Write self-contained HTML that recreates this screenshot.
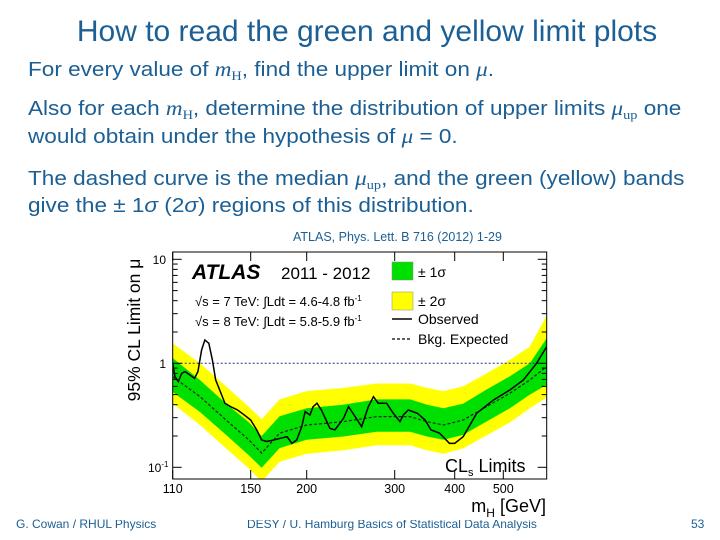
<!DOCTYPE html>
<html><head><meta charset="utf-8"><style>
body{margin:0;width:720px;height:540px;background:#fff;overflow:hidden;position:relative;font-family:"Liberation Sans",sans-serif}
.t{position:absolute;color:#1b5f94;font-family:"Liberation Sans",sans-serif;white-space:nowrap}
.b{font-size:20.5px;transform:scaleX(1.1);transform-origin:0 0;line-height:24px}
i.m{font-family:"Liberation Serif",serif;font-size:21px}
sub{font-family:"Liberation Serif",serif;font-size:13px;vertical-align:baseline;position:relative;top:4px;line-height:0}
</style></head><body>
<div class="t" style="left:0;width:734px;text-align:center;top:15px;font-size:30px">How to read the green and yellow limit plots</div>
<div class="t b" style="left:28px;top:57px">For every value of <i class="m">m</i><sub>H</sub>, find the upper limit on <i class="m">μ</i>.</div>
<div class="t b" style="left:28px;top:96px">Also for each <i class="m">m</i><sub>H</sub>, determine the distribution of upper limits <i class="m">μ</i><sub>up</sub> one</div>
<div class="t b" style="left:28px;top:124px">would obtain under the hypothesis of <i class="m">μ</i> = 0.</div>
<div class="t b" style="left:28px;top:166px">The dashed curve is the median <i class="m">μ</i><sub>up</sub>, and the green (yellow) bands</div>
<div class="t b" style="left:28px;top:194px">give the ± 1<i>σ</i> (2<i>σ</i>) regions of this distribution.</div>
<div class="t" style="left:293px;top:230px;font-size:12.5px">ATLAS, Phys. Lett. B 716 (2012) 1-29</div>
<div class="t" style="left:16px;top:517px;font-size:12px">G. Cowan / RHUL Physics</div>
<div class="t" style="left:247px;top:517px;font-size:12px">DESY / U. Hamburg Basics of Statistical Data Analysis</div>
<div class="t" style="left:691px;top:517px;font-size:12px">53</div>

<svg id="chart" width="720" height="540" style="position:absolute;left:0;top:0" xmlns="http://www.w3.org/2000/svg" font-family="Liberation Sans, sans-serif"></svg>
<script>
const massGrid=[110,122.6,136,149,158.7,174,200,237,276,323,350,379,416,463,514,559,600];
const expected=[0.744,0.478,0.285,0.183,0.137,0.213,0.255,0.275,0.307,0.307,0.275,0.255,0.285,0.383,0.515,0.691,0.93];
const up2=[1.56,1.0,0.60,0.38,0.29,0.45,0.54,0.58,0.64,0.64,0.58,0.54,0.60,0.80,1.08,1.45,2.9];
const up1=[1.12,0.69,0.41,0.27,0.20,0.31,0.37,0.40,0.45,0.45,0.40,0.37,0.41,0.56,0.75,1.0,1.74];
const dn1=[0.53,0.34,0.205,0.13,0.099,0.153,0.184,0.198,0.22,0.22,0.198,0.184,0.205,0.276,0.37,0.50,0.62];
const dn2=[0.41,0.255,0.152,0.097,0.073,0.113,0.135,0.146,0.163,0.163,0.146,0.135,0.152,0.203,0.27,0.37,0.47];
const obsMass=[110,111,112.5,114,115.6,117.8,120,121.6,123.4,125,127,128.8,130.5,132.6,135.4,138.5,142.3,146.3,150,154.7,158.7,162.9,168.8,174.6,180.8,185.3,190,195,198.4,203,206,209.7,214,222.6,227.8,237,242.5,250,257.6,265.7,272,278,285,289,298,307.7,312.6,320,327,334.5,347,357,372,390,400,416,442.5,478,514,544,575,600];
const observed=[1.0,0.744,0.666,0.801,0.832,0.772,0.717,0.832,1.343,1.676,1.557,1.077,0.691,0.554,0.413,0.383,0.356,0.318,0.285,0.229,0.183,0.177,0.183,0.19,0.197,0.17,0.183,0.246,0.343,0.318,0.383,0.413,0.356,0.237,0.229,0.296,0.383,0.307,0.246,0.383,0.478,0.413,0.413,0.413,0.331,0.275,0.318,0.356,0.343,0.331,0.285,0.229,0.213,0.17,0.17,0.197,0.331,0.444,0.554,0.691,1.0,1.446];
const xTicks=[110,150,200,300,400,500];
const xTickLabels=["110","150","200","300","400","500"];

const svg=document.getElementById('chart');
const NS='http://www.w3.org/2000/svg';
const L=172.7,R=546.7,T=252,B=479;
const xKnots=[[110,172.7],[150,250.7],[200,306.7],[300,394.7],[400,454.7],[500,503.3],[600,546.7]];
function X(m){
  for(let i=0;i<xKnots.length-1;i++){const a=xKnots[i],b=xKnots[i+1];
    if(m<=b[0]||i==xKnots.length-2){const f=(Math.log(m)-Math.log(a[0]))/(Math.log(b[0])-Math.log(a[0]));return a[1]+f*(b[1]-a[1]);}}
}
function Y(v){return 363.3-104*Math.log10(v);}
function mk(tag,at,name){const e=document.createElementNS(NS,tag);for(const k in at)e.setAttribute(k,at[k]);
  
  
  svg.appendChild(e);return e;}
function band(hi,lo){let d='';massGrid.forEach((m,i)=>d+=(i?'L':'M')+X(m)+','+Y(hi[i]));
  for(let i=massGrid.length-1;i>=0;i--)d+='L'+X(massGrid[i])+','+Y(lo[i]);return d+'Z';}
mk('rect',{x:110,y:245,width:450,height:275,fill:'#fff'},'chart-background');
const clip=mk('clipPath',{id:'cp'},'clip');
const cr=document.createElementNS(NS,'rect');cr.setAttribute('x',L);cr.setAttribute('y',T);cr.setAttribute('width',R-L);cr.setAttribute('height',B-T);clip.appendChild(cr);
mk('path',{d:band(up2,dn2),fill:'#ffff00','clip-path':'url(#cp)'},'band-2sigma');
mk('path',{d:band(up1,dn1),fill:'#00e000','clip-path':'url(#cp)'},'band-1sigma');
mk('line',{x1:L,x2:R,y1:Y(1),y2:Y(1),stroke:'#223388','stroke-width':1,'stroke-dasharray':'2,2'},'mu-equals-one-line');
mk('polyline',{points:massGrid.map((m,i)=>X(m)+','+Y(expected[i])).join(' '),fill:'none',stroke:'#222','stroke-width':1.2,'stroke-dasharray':'3,2','clip-path':'url(#cp)'},'expected-median-curve');
mk('polyline',{points:obsMass.map((m,i)=>X(m)+','+Y(observed[i])).join(' '),fill:'none',stroke:'#000','stroke-width':1.5,'clip-path':'url(#cp)'},'observed-curve');
mk('rect',{x:L,y:T,width:R-L,height:B-T,fill:'none',stroke:'#000','stroke-width':1},'plot-frame');
[0.1,1,10].forEach(v=>{for(let k=1;k<10;k++){const val=v*k,y=Y(val);if(y<T||y>B)continue;const len=k==1?9:5;
  mk('line',{x1:L,x2:L+len,y1:y,y2:y,stroke:'#000'},'y-tick');mk('line',{x1:R,x2:R-len,y1:y,y2:y,stroke:'#000'},'y-tick-right');}});
mk('text',{x:166,y:264,'font-size':12,'text-anchor':'end'},'y-label-10').textContent='10';
mk('text',{x:166,y:368,'font-size':12,'text-anchor':'end'},'y-label-1').textContent='1';
const t3=mk('text',{x:148,y:472,'font-size':12},'y-label-0.1');t3.innerHTML='10<tspan dy="-5" font-size="8">-1</tspan>';
xTicks.forEach((m,i)=>{const x=X(m);mk('line',{x1:x,x2:x,y1:B,y2:B-9,stroke:'#000'},'x-tick');mk('line',{x1:x,x2:x,y1:T,y2:T+9,stroke:'#000'},'x-tick-top');
  mk('text',{x:x,y:493,'font-size':12.5,'text-anchor':'middle'},'x-label').textContent=xTickLabels[i];});
const xt=mk('text',{x:546,y:512,'font-size':18,'text-anchor':'end'},'x-axis-title');xt.innerHTML='m<tspan dy="5" font-size="12">H</tspan><tspan dy="-5"> [GeV]</tspan>';
const yt=mk('text',{x:0,y:0,'font-size':17.5,'text-anchor':'middle',transform:'translate(140,330) rotate(-90)'},'y-axis-title');yt.textContent='95% CL Limit on μ';
mk('text',{x:192,y:279,'font-size':21,'font-weight':'bold','font-style':'italic'},'atlas-label').textContent='ATLAS';
mk('text',{x:281,y:279,'font-size':17},'year-label').textContent='2011 - 2012';
mk('text',{x:195,y:306,'font-size':13},'lumi-7tev').innerHTML='√s = 7 TeV: ∫Ldt = 4.6-4.8 fb<tspan dy="-5" font-size="8">-1</tspan>';
mk('text',{x:195,y:326,'font-size':13},'lumi-8tev').innerHTML='√s = 8 TeV: ∫Ldt = 5.8-5.9 fb<tspan dy="-5" font-size="8">-1</tspan>';
mk('rect',{x:392,y:262,width:21,height:18,fill:'#00e000',stroke:'#888','stroke-width':0.5},'legend-1sigma-swatch');
mk('rect',{x:392,y:292,width:21,height:18,fill:'#ffff00',stroke:'#888','stroke-width':0.5},'legend-2sigma-swatch');
mk('line',{x1:392,x2:412,y1:319,y2:319,stroke:'#000','stroke-width':1.5},'legend-observed-line');
mk('line',{x1:392,x2:412,y1:339,y2:339,stroke:'#000','stroke-width':1.2,'stroke-dasharray':'3,2'},'legend-expected-line');
mk('text',{x:418,y:277,'font-size':14},'legend-1sigma').textContent='± 1σ';
mk('text',{x:418,y:306,'font-size':14},'legend-2sigma').textContent='± 2σ';
mk('text',{x:418,y:324,'font-size':14},'legend-observed').textContent='Observed';
mk('text',{x:418,y:344,'font-size':14},'legend-expected').textContent='Bkg. Expected';
mk('text',{x:445,y:472,'font-size':18},'cls-limits-label').innerHTML='CL<tspan dy="4" font-size="11">s</tspan><tspan dy="-4"> Limits</tspan>';
</script>
</body></html>
